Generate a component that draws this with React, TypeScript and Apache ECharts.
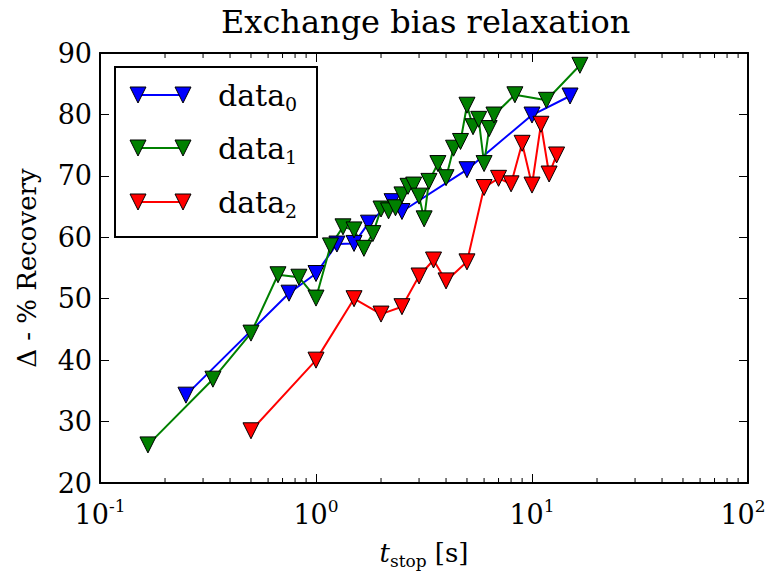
import React, { useEffect, useRef } from "react";
import * as echarts from "echarts";

const blueX = [0.25, 0.75, 1.0, 1.25, 1.5, 1.75, 2.25, 2.5, 5, 10, 15];
const blueY = [34.3, 50.9, 54.1, 58.9, 59.0, 62.3, 65.8, 64.2, 71.0, 79.9, 83.0];

const greenX = [0.1667, 0.3333, 0.5, 0.6667, 0.8333, 1.0, 1.1667, 1.3333, 1.5, 1.6667, 1.8333, 2.0, 2.1667, 2.3333, 2.5, 2.6667, 2.8333, 3.0, 3.1667, 3.3333, 3.6667, 4.0, 4.3333, 4.6667, 5.0, 5.3333, 5.6667, 6.0, 6.3333, 6.6667, 8.3333, 11.6667, 16.6667];
const greenY = [26.2, 36.9, 44.4, 53.9, 53.5, 50.1, 58.6, 61.7, 61.2, 58.2, 60.6, 64.6, 64.3, 64.8, 66.9, 68.3, 68.5, 66.7, 63.0, 69.1, 72.0, 69.7, 74.5, 75.6, 81.5, 78.0, 79.2, 72.0, 77.7, 79.9, 83.2, 82.3, 88.0];

const redX = [0.5, 1, 1.5, 2, 2.5, 3, 3.5, 4, 5, 6, 7, 8, 9, 10, 11, 12, 13];
const redY = [28.5, 40.0, 50.0, 47.5, 48.7, 53.7, 56.3, 52.9, 56.0, 68.1, 69.6, 68.7, 75.3, 68.5, 78.4, 70.3, 73.4];

const seriesNames = ["0", "1", "2"];
const seriesColors = ["#0000ff", "#008000", "#ff0000"];

const xMin = 0.1;
const xMax = 100;
const yMin = 20;
const yMax = 90;
const yInterval = 10;

const minorTickValues: number[] = [];
for (const dec of [0.1, 1, 10]) {
  for (let k = 2; k <= 9; k++) minorTickValues.push(+(dec * k).toPrecision(3));
}

const FONT = "DejaVu Serif";

function pairs(xs: number[], ys: number[]) {
  return xs.map((x, i) => [x, ys[i]]);
}

export default function App() {
  const ref = useRef<HTMLDivElement>(null);
  useEffect(() => {
    if (!ref.current) return;
    const chart = echarts.init(ref.current, undefined, { renderer: "svg" });

    const lineSeries = (name: string, data: number[][], color: string) => ({
      type: "line",
      name,
      data,
      xAxisIndex: 0,
      yAxisIndex: 0,
      symbol: "triangle",
      symbolRotate: 180,
      symbolSize: 16,
      showAllSymbol: true,
      lineStyle: { color, width: 2 },
      itemStyle: { color, borderColor: "#000", borderWidth: 1 },
      clip: false,
    });

    const legendRows = [95, 148, 202];
    const legendChildren: any[] = [
      {
        type: "rect",
        shape: { x: 115, y: 67, width: 202, height: 170 },
        style: { fill: "#fff", stroke: "#000", lineWidth: 2 },
      },
    ];
    seriesNames.forEach((n, i) => {
      const cy = legendRows[i];
      const c = seriesColors[i];
      legendChildren.push({
        type: "line",
        shape: { x1: 138, y1: cy, x2: 183, y2: cy },
        style: { stroke: c, lineWidth: 2 },
      });
      [138, 183].forEach((cx) => {
        legendChildren.push({
          type: "polygon",
          shape: { points: [[cx - 8, cy - 8], [cx + 8, cy - 8], [cx, cy + 8]] },
          style: { fill: c, stroke: "#000", lineWidth: 1 },
        });
      });
      legendChildren.push({
        type: "text",
        x: 218,
        y: cy,
        style: {
          text: `{d|data}{s|${n}}`,
          verticalAlign: "middle",
          rich: {
            d: { fontFamily: FONT, fontSize: 30, color: "#000", lineHeight: 36 },
            s: { fontFamily: FONT, fontSize: 19, color: "#000", lineHeight: 36, verticalAlign: "bottom" },
          },
        },
      });
    });

    const option: any = {
      animation: false,
      backgroundColor: "#fff",
      title: {
        text: "Exchange bias relaxation",
        left: 216,
        top: 1,
        textStyle: { fontFamily: FONT, fontSize: 32, fontWeight: "normal", color: "#000" },
      },
      grid: { left: 100, right: 20, top: 53, bottom: 90, containLabel: false, outerBoundsMode: "none" },
      xAxis: [
        {
          type: "log",
          logBase: 10,
          min: xMin,
          max: xMax,
          position: "bottom",
          axisLine: { show: true, onZero: false, lineStyle: { color: "#000", width: 2 } },
          axisTick: { show: true, inside: true, length: 9, lineStyle: { color: "#000", width: 1 } },
          splitLine: { show: false },
          axisLabel: {
            margin: 14,
            formatter: (v: number) => {
              const e = Math.round(Math.log10(v));
              return v >= xMax ? `{b|10}{f|${e}}` : `{b|10}{e|${e}}`;
            },
            rich: {
              b: { fontFamily: FONT, fontSize: 27, color: "#000", lineHeight: 34 },
              e: { fontFamily: FONT, fontSize: 17, color: "#000", lineHeight: 20, verticalAlign: "top" },
              f: { fontFamily: FONT, fontSize: 17, color: "#000", lineHeight: 20, verticalAlign: "top", padding: [0, 10, 0, 0] },
            },
          },
          name: "{t|t}{s|stop}{n| [s]}",
          nameLocation: "middle",
          nameGap: 54,
          nameTextStyle: {
            rich: {
              t: { fontFamily: FONT, fontStyle: "italic", fontSize: 26, color: "#000", lineHeight: 32 },
              s: { fontFamily: FONT, fontSize: 17, color: "#000", lineHeight: 32, verticalAlign: "bottom" },
              n: { fontFamily: FONT, fontSize: 26, color: "#000", lineHeight: 32 },
            },
          },
        },
        {
          type: "log",
          logBase: 10,
          min: xMin,
          max: xMax,
          position: "top",
          axisLine: { show: true, onZero: false, lineStyle: { color: "#000", width: 2 } },
          axisTick: { show: true, inside: true, length: 9, lineStyle: { color: "#000", width: 1 } },
          splitLine: { show: false },
          axisLabel: { show: false },
        },
      ],
      yAxis: [
        {
          type: "value",
          min: yMin,
          max: yMax,
          interval: yInterval,
          position: "left",
          axisLine: { show: true, onZero: false, lineStyle: { color: "#000", width: 2 } },
          axisTick: { show: true, inside: true, length: 9, lineStyle: { color: "#000", width: 1 } },
          splitLine: { show: false },
          axisLabel: { margin: 8, fontFamily: FONT, fontSize: 27, color: "#000" },
          name: "Δ - % Recovery",
          nameLocation: "middle",
          nameRotate: 90,
          nameGap: 60,
          nameTextStyle: { fontFamily: FONT, fontSize: 26, color: "#000" },
        },
        {
          type: "value",
          min: yMin,
          max: yMax,
          interval: yInterval,
          position: "right",
          axisLine: { show: true, onZero: false, lineStyle: { color: "#000", width: 2 } },
          axisTick: { show: true, inside: true, length: 9, lineStyle: { color: "#000", width: 1 } },
          splitLine: { show: false },
          axisLabel: { show: false },
        },
      ],
      series: [
        lineSeries("data0", pairs(blueX, blueY), seriesColors[0]),
        lineSeries("data1", pairs(greenX, greenY), seriesColors[1]),
        lineSeries("data2", pairs(redX, redY), seriesColors[2]),
        {
          type: "custom",
          name: "minorTicks",
          xAxisIndex: 0,
          yAxisIndex: 0,
          silent: true,
          clip: false,
          data: minorTickValues.map((v) => [v, yMin]),
          renderItem: (params: any, api: any) => {
            const v = api.value(0);
            const b = api.coord([v, yMin]);
            const t = api.coord([v, yMax]);
            return {
              type: "group",
              children: [
                { type: "line", shape: { x1: b[0], y1: b[1], x2: b[0], y2: b[1] - 5 }, style: { stroke: "#000", lineWidth: 1 } },
                { type: "line", shape: { x1: t[0], y1: t[1], x2: t[0], y2: t[1] + 5 }, style: { stroke: "#000", lineWidth: 1 } },
              ],
            };
          },
        },
      ],
      graphic: [{ type: "group", z: 100, children: legendChildren }],
    };

    chart.setOption(option);
    return () => chart.dispose();
  }, []);

  return (
    <div
      ref={ref}
      style={{ position: "fixed", left: 0, top: 0, width: 768, height: 573, background: "#fff" }}
    />
  );
}
